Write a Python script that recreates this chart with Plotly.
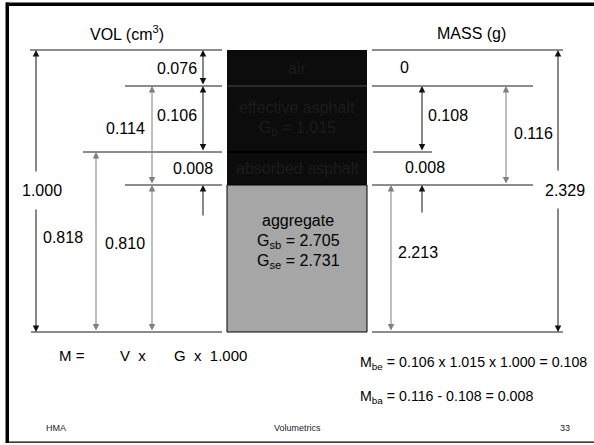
import plotly.graph_objects as go

# ---- data (values shown in the diagram) ----
layer_names = ["air", "effective asphalt", "absorbed asphalt", "aggregate"]
G_b = "1.015"
G_sb = "2.705"
G_se = "2.731"
vol_parts = ["0.076", "0.106", "0.008"]          # air, eff. asphalt, abs. asphalt
vol_sums = ["0.114", "1.000", "0.818", "0.810"]  # abs+eff, total, aggr+abs, aggregate
mass_parts = ["0", "0.108", "0.008"]
mass_sums = ["0.116", "2.329", "2.213"]
footer = ["HMA", "Volumetrics", "33"]

# ---- layout geometry (pixel layout of the diagram) ----
W, H = 594, 445
Yb = [50, 86, 152, 185, 332]     # layer boundaries (top -> bottom)
BOX_L, BOX_R = 227, 367
FONT = "Liberation Sans, Arial, sans-serif"
BLACK = "#111111"
GRAY = "#7f7f7f"

fig = go.Figure()
shapes = []
ann = []

def hline(y, x0, x1, color="#1a1a1a", w=1):
    shapes.append(dict(type="line", x0=x0, x1=x1, y0=y, y1=y,
                       line=dict(color=color, width=w), xref="x", yref="y"))

def box(x0, y0, x1, y1, fill):
    shapes.append(dict(type="rect", x0=x0, x1=x1, y0=y0, y1=y1, xref="x", yref="y",
                       fillcolor=fill, line=dict(width=0)))

def text(x, y, s, size=16, color="#000000", xa="center", ya="middle"):
    ann.append(dict(x=x, y=y, text=s, showarrow=False, xref="x", yref="y",
                    xanchor=xa, yanchor=ya,
                    font=dict(family=FONT, size=size, color=color)))

def arrow(x, yhead, ytail, color=BLACK, both=False):
    ann.append(dict(x=x, y=yhead, ax=x, ay=ytail, xref="x", yref="y",
                    axref="x", ayref="y", text="", showarrow=True,
                    arrowhead=2, arrowsize=1.3, arrowwidth=1,
                    arrowside="end+start" if both else "end",
                    arrowcolor=color, standoff=0, startstandoff=0))

# frame
box(6, 2.5, W, 6, "#000000")        # top (thick)
box(5.5, 2.5, 9, 443, "#000000")    # left (thick)
box(6, 441.5, W, 442.7, "#000000")  # bottom (thin)

# central column
shapes.append(dict(type="rect", x0=BOX_L, x1=BOX_R, y0=Yb[0], y1=Yb[3],
                   fillcolor="#0c0c0c", line=dict(width=0), layer="below"))
shapes.append(dict(type="line", x0=BOX_L, x1=BOX_R, y0=Yb[1], y1=Yb[1],
                   line=dict(color="#4a4a4a", width=1)))
shapes.append(dict(type="line", x0=BOX_L, x1=BOX_R, y0=Yb[2], y1=Yb[2],
                   line=dict(color="#000000", width=2)))
shapes.append(dict(type="rect", x0=BOX_L, x1=BOX_R, y0=Yb[3], y1=Yb[4],
                   fillcolor="#a6a6a6", line=dict(color="#000", width=1), layer="below"))

cx = (BOX_L + BOX_R) / 2
dark = "#1c1c1c"
text(cx, (Yb[0] + Yb[1]) / 2, layer_names[0], color=dark)
text(cx, 107, layer_names[1], color=dark)
text(cx, 128, "G<sub>b</sub> = " + G_b, color=dark)
text(cx, (Yb[2] + Yb[3]) / 2, layer_names[2], color=dark)
text(cx + 1, 220, layer_names[3])
text(cx + 1, 241, "G<sub>sb</sub> = " + G_sb)
text(cx + 1, 261, "G<sub>se</sub> = " + G_se)

# titles
text(127, 33, "VOL (cm<sup>3</sup>)")
text(471, 33, "MASS (g)")

# ---- volume side ----
hline(Yb[0], 30, 222)
hline(Yb[1], 125, 222)
hline(Yb[2], 83, 222)
hline(Yb[3], 125, 222)
hline(Yb[4], 31, 222)

arrow(203, Yb[0], Yb[1], BLACK, both=True)        # 0.076
text(177, 68, vol_parts[0])
arrow(203, Yb[1], Yb[2], BLACK, both=True)        # 0.106
text(177, 115, vol_parts[1])
text(193, 168, vol_parts[2])                      # 0.008
arrow(203, Yb[3], 217, BLACK)                     # small pointer
arrow(152, Yb[1], Yb[3], GRAY, both=True)         # 0.114
text(125, 128, vol_sums[0])
arrow(152, Yb[3], Yb[4], GRAY, both=True)         # 0.810
text(125, 243, vol_sums[3])
arrow(96, Yb[2], Yb[4], GRAY, both=True)          # 0.818
text(63, 237, vol_sums[2])
arrow(36, Yb[0], 173, BLACK)                      # 1.000 upper
arrow(36, Yb[4], 208, BLACK)                      # 1.000 lower
text(42, 190, vol_sums[1])

# ---- mass side ----
hline(Yb[0], 372, 563)
hline(Yb[1], 372, 533)
hline(Yb[2], 373, 432)
hline(Yb[3], 372, 533)
hline(Yb[4], 372, 563)

text(404, 67, mass_parts[0])
arrow(422, Yb[1], Yb[2], BLACK, both=True)        # 0.108
text(448, 115, mass_parts[1])
text(425, 167, mass_parts[2])
arrow(422, Yb[3], 214, BLACK)                     # small pointer
arrow(506, Yb[1], Yb[3], GRAY, both=True)         # 0.116
text(533, 133, mass_sums[0])
arrow(391, Yb[3], Yb[4], GRAY, both=True)         # 2.213
text(418, 252, mass_sums[2])
arrow(558, Yb[0], 172, BLACK)                     # 2.329 upper
arrow(558, Yb[4], 207, BLACK)                     # 2.329 lower
text(565, 190, mass_sums[1])

# ---- formulas ----
text(57, 355, "M =", size=15, xa="left")
text(118, 355, "V  x", size=15, xa="left")
text(172, 355, "G  x  1.000", size=15, xa="left")
text(358, 363, "M<sub>be</sub> = " + vol_parts[1] + " x " + G_b + " x 1.000 = " + mass_parts[1],
     size=14.2, xa="left")
text(358, 397, "M<sub>ba</sub> = " + mass_sums[0] + " - " + mass_parts[1] + " = " + mass_parts[2],
     size=14.2, xa="left")

# ---- footer ----
text(44, 428, footer[0], size=9, color="#222", xa="left")
text(297, 428, footer[1], size=9, color="#222")
text(572, 428, footer[2], size=9, color="#222", xa="right")

fig.update_layout(
    width=W, height=H, margin=dict(l=0, r=0, t=0, b=0, pad=0),
    paper_bgcolor="white", plot_bgcolor="white",
    xaxis=dict(range=[0, W], visible=False, fixedrange=True),
    yaxis=dict(range=[H, 0], visible=False, fixedrange=True),
    shapes=shapes, annotations=ann, showlegend=False,
)
fig.write_html("out.html", config={"displayModeBar": False},
               post_script="document.body.style.margin='0';document.body.style.overflow='hidden';")
